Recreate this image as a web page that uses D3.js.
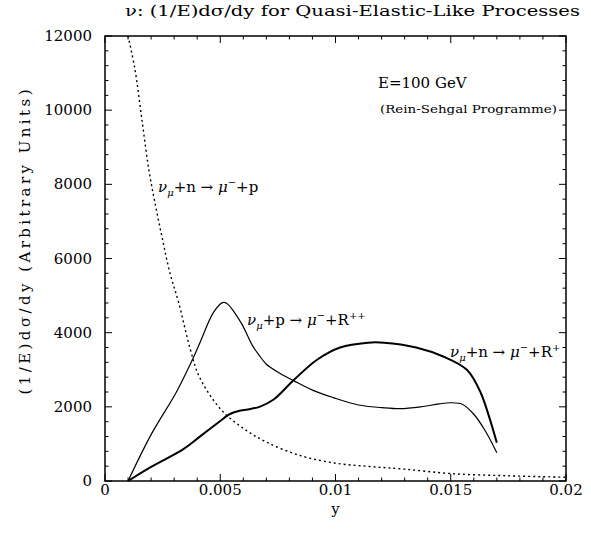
<!DOCTYPE html>
<html>
<head>
<meta charset="utf-8">
<script src="https://cdn.jsdelivr.net/npm/d3@7"></script>
<style>
  body { margin: 0; background: #fff; }
  text { font-family: "DejaVu Serif", serif; fill: #000; }
</style>
</head>
<body>
<svg id="chart"></svg>
<script>
// nu_mu + n -> mu- + p (dotted)
const qeX = [0.001, 0.0013, 0.0016, 0.0019, 0.0022, 0.0025, 0.0028, 0.0032, 0.0037, 0.0041, 0.005, 0.006, 0.007, 0.0085, 0.01, 0.0115, 0.013, 0.015, 0.0175, 0.02];
const qeY = [12000, 11100, 9750, 8400, 7400, 6500, 5650, 4800, 3550, 2800, 1950, 1420, 1050, 680, 480, 390, 320, 200, 140, 100];

// nu_mu + p -> mu- + R++ (thin)
const rppX = [0.001, 0.002, 0.0031, 0.0037, 0.0041, 0.0047, 0.0051, 0.0053, 0.0059, 0.0064, 0.0067, 0.007, 0.0076, 0.0082, 0.009, 0.0099, 0.011, 0.012, 0.0128, 0.0137, 0.0145, 0.015, 0.0155, 0.016, 0.0165, 0.017];
const rppY = [0, 1250, 2400, 3150, 3700, 4540, 4810, 4780, 4270, 3650, 3380, 3150, 2900, 2700, 2450, 2250, 2050, 1980, 1950, 2000, 2080, 2110, 2070, 1800, 1350, 760];

// nu_mu + n -> mu- + R+ (thick)
const rpX = [0.001, 0.002, 0.0034, 0.0041, 0.0049, 0.0054, 0.0058, 0.0062, 0.0067, 0.0073, 0.0082, 0.0092, 0.0102, 0.0114, 0.0121, 0.0135, 0.0147, 0.0157, 0.0163, 0.017];
const rpY = [0, 380, 860, 1190, 1570, 1800, 1890, 1930, 2000, 2190, 2730, 3270, 3600, 3730, 3730, 3600, 3350, 3000, 2380, 1030];

const xTicks = [0, 0.005, 0.01, 0.015, 0.02];
const xTickLabels = ['0', '0.005', '0.01', '0.015', '0.02'];
const yTicks = [0, 2000, 4000, 6000, 8000, 10000, 12000];

const W = 591, H = 534;
const margin = { top: 36, right: 25, bottom: 53, left: 105 };
const width = W - margin.left - margin.right;
const height = H - margin.top - margin.bottom;

const svg = d3.select('#chart').attr('width', W).attr('height', H);
const g = svg.append('g').attr('transform', `translate(${margin.left},${margin.top})`);

const x = d3.scaleLinear().domain([0, 0.02]).range([0, width]);
const y = d3.scaleLinear().domain([0, 12000]).range([height, 0]);

// frame
g.append('rect')
  .attr('width', width).attr('height', height)
  .attr('fill', 'none').attr('stroke', '#000').attr('stroke-width', 1.5);

// inward ticks on all four sides
const xMinor = d3.range(0, 0.02001, 0.001);
const yMinor = d3.range(0, 12001, 400);
const tickG = g.append('g').attr('stroke', '#000').attr('stroke-width', 1);
xMinor.forEach(v => {
  const major = xTicks.some(t => Math.abs(t - v) < 1e-9);
  const len = major ? 7 : 3.5;
  tickG.append('line').attr('x1', x(v)).attr('x2', x(v)).attr('y1', height).attr('y2', height - len);
  tickG.append('line').attr('x1', x(v)).attr('x2', x(v)).attr('y1', 0).attr('y2', len);
});
yMinor.forEach(v => {
  const major = v % 2000 === 0;
  const len = major ? 7 : 3.5;
  tickG.append('line').attr('x1', 0).attr('x2', len).attr('y1', y(v)).attr('y2', y(v));
  tickG.append('line').attr('x1', width).attr('x2', width - len).attr('y1', y(v)).attr('y2', y(v));
});

// tick labels
g.selectAll('.xlab').data(xTicks).join('text')
  .attr('class', 'xlab')
  .attr('x', d => x(d)).attr('y', height + 14)
  .attr('text-anchor', 'middle').attr('font-size', 15)
  .text((d, i) => xTickLabels[i]);

g.selectAll('.ylab').data(yTicks).join('text')
  .attr('class', 'ylab')
  .attr('x', -13).attr('y', d => y(d) + 5)
  .attr('text-anchor', 'end').attr('font-size', 15)
  .text(d => d);

// axis titles
svg.append('text')
  .attr('x', margin.left + x(0.01)).attr('y', 514)
  .attr('text-anchor', 'middle').attr('font-size', 15)
  .text('y');

svg.append('text')
  .attr('transform', 'translate(30,242) rotate(-90)')
  .attr('text-anchor', 'middle').attr('font-size', 15)
  .attr('textLength', 305).attr('lengthAdjust', 'spacing')
  .text('(1/E)dσ/dy (Arbitrary Units)');

svg.append('text')
  .attr('x', 125).attr('y', 16)
  .attr('font-size', 15)
  .attr('textLength', 455).attr('lengthAdjust', 'spacingAndGlyphs')
  .text('ν: (1/E)dσ/dy for Quasi-Elastic-Like Processes');

// curves
const line = d3.line().x(d => x(d[0])).y(d => y(d[1])).curve(d3.curveCatmullRom.alpha(0.5));

g.append('path')
  .datum(d3.zip(qeX, qeY))
  .attr('d', line).attr('fill', 'none')
  .attr('stroke', '#000').attr('stroke-width', 1.4)
  .attr('stroke-dasharray', '2,3');

g.append('path')
  .datum(d3.zip(rppX, rppY))
  .attr('d', line).attr('fill', 'none')
  .attr('stroke', '#000').attr('stroke-width', 1.2);

g.append('path')
  .datum(d3.zip(rpX, rpY))
  .attr('d', line).attr('fill', 'none')
  .attr('stroke', '#000').attr('stroke-width', 2);

// process labels with sub/superscripts
function procLabel(px, py, parts) {
  const t = svg.append('text').attr('x', px).attr('y', py).attr('font-size', 15);
  let shift = 0;
  parts.forEach(([s, kind]) => {
    const target = kind === 'sub' ? 4 : kind === 'sup' ? -6 : 0;
    t.append('tspan')
      .attr('dy', target - shift)
      .attr('font-size', kind ? 10 : 15)
      .attr('font-style', s === 'ν' || s === 'μ' ? 'italic' : null)
      .text(s);
    shift = target;
  });
  return t;
}

procLabel(158, 192, [['ν', ''], ['μ', 'sub'], ['+n → ', ''], ['μ', ''], ['−', 'sup'], ['+p', '']]);
procLabel(247, 325, [['ν', ''], ['μ', 'sub'], ['+p → ', ''], ['μ', ''], ['−', 'sup'], ['+R', ''], ['++', 'sup']]);
procLabel(450, 357, [['ν', ''], ['μ', 'sub'], ['+n → ', ''], ['μ', ''], ['−', 'sup'], ['+R', ''], ['+', 'sup']]);

svg.append('text')
  .attr('x', 378).attr('y', 88).attr('font-size', 15)
  .text('E=100 GeV');
svg.append('text')
  .attr('x', 380).attr('y', 113).attr('font-size', 11)
  .attr('textLength', 177).attr('lengthAdjust', 'spacingAndGlyphs')
  .text('(Rein-Sehgal Programme)');
</script>
</body>
</html>
